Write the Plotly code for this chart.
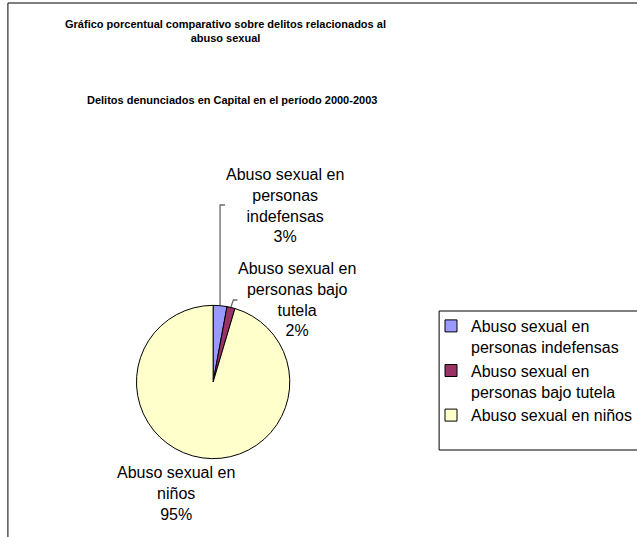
import math
import plotly.graph_objects as go

# ---------------- data ----------------
categories = [
    "Abuso sexual en personas indefensas",
    "Abuso sexual en personas bajo tutela",
    "Abuso sexual en niños",
]
legend_names = [
    "Abuso sexual en<br>personas indefensas",
    "Abuso sexual en<br>personas bajo tutela",
    "Abuso sexual en niños",
]
slice_label_lines = [
    ["Abuso sexual en", "personas", "indefensas"],
    ["Abuso sexual en", "personas bajo", "tutela"],
    ["Abuso sexual en", "niños"],
]
values = [2.9, 1.7, 95.4]
colors = ["#9999FF", "#993366", "#FFFFCC"]

title_text = "Gráfico porcentual comparativo sobre delitos relacionados al<br>abuso sexual"
subtitle_text = "Delitos denunciados en Capital en el período 2000-2003"

# ---------------- layout helpers ----------------
W, H = 637, 537


def px(x):
    return x / W


def py(y):
    return 1 - y / H


FONT = "Liberation Sans, Arial, sans-serif"

# pie geometry (pixels)
pie_left, pie_right, pie_top, pie_bottom = 138, 293, 305, 459
cx = (pie_left + pie_right) / 2
cy = (pie_top + pie_bottom) / 2
r = min(pie_right - pie_left, pie_bottom - pie_top) / 2

fig = go.Figure(
    go.Pie(
        labels=legend_names,
        values=values,
        sort=False,
        direction="clockwise",
        rotation=0,
        marker=dict(colors=colors, line=dict(color="#000000", width=1)),
        textinfo="none",
        hovertext=categories,
        hoverinfo="text+percent",
        domain=dict(x=[px(pie_left), px(pie_right)], y=[py(pie_bottom), py(pie_top)]),
    )
)

total = sum(values)
label_pos = [(288, 205), (300, 299.5), (178, 493)]
annotations = []
for lines, v, (lx, ly) in zip(slice_label_lines, values, label_pos):
    txt = "<br>".join(lines + [f"{round(100 * v / total)}%"])
    annotations.append(
        dict(
            text=txt, x=px(lx), y=py(ly), xref="paper", yref="paper",
            xanchor="center", yanchor="middle", showarrow=False, align="center",
            font=dict(family=FONT, size=16, color="#000000"),
        )
    )

annotations.append(
    dict(
        text="<b>" + subtitle_text + "</b>", x=px(235), y=py(100), xref="paper", yref="paper",
        xanchor="center", yanchor="middle", showarrow=False,
        font=dict(family=FONT, size=11, color="#000000"),
    )
)

# leader lines from slice mid-points
shapes = []
cum = 0
mids = []
for v in values:
    a = 2 * math.pi * (cum + v / 2) / total
    mids.append((cx + r * math.sin(a), cy - r * math.cos(a)))
    cum += v

lc = dict(color="#6a6a6a", width=1.3)
x0, y0 = mids[0]
shapes.append(dict(type="path", xref="paper", yref="paper",
                   path=f"M {px(x0)},{py(y0)} L {px(x0)},{py(205)} L {px(x0 + 5)},{py(205)}",
                   line=lc))
x1, y1 = mids[1]
shapes.append(dict(type="path", xref="paper", yref="paper",
                   path=f"M {px(x1)},{py(y1)} L {px(x1 + 2.5)},{py(300)} L {px(x1 + 6.5)},{py(300)}",
                   line=lc))

# chart area border (right/bottom lie outside the picture)
shapes.append(dict(type="rect", xref="paper", yref="paper",
                   x0=px(8), x1=px(660), y0=py(3), y1=py(560),
                   line=dict(color="#000000", width=1), fillcolor="rgba(0,0,0,0)"))
# legend box
shapes.append(dict(type="rect", xref="paper", yref="paper",
                   x0=px(444), x1=px(660), y0=py(311), y1=py(450),
                   line=dict(color="#000000", width=1), fillcolor="rgba(0,0,0,0)"))

fig.update_layout(
    width=W, height=H,
    margin=dict(l=0, r=0, t=0, b=0),
    paper_bgcolor="#FFFFFF", plot_bgcolor="#FFFFFF",
    font=dict(family=FONT, color="#000000"),
    title=dict(
        text="<b>" + title_text + "</b>", x=px(228), y=py(28),
        xanchor="center", yanchor="middle", xref="paper", yref="container",
        font=dict(family=FONT, size=11, color="#000000"),
        automargin=False,
    ),
    showlegend=True,
    legend=dict(
        x=px(436), y=py(309), xanchor="left", yanchor="top",
        font=dict(family=FONT, size=16, color="#000000"),
        bgcolor="rgba(0,0,0,0)", borderwidth=0, valign="top",
        traceorder="normal",
    ),
    annotations=annotations,
    shapes=shapes,
)

fig.write_html(
    "out.html",
    config={"displayModeBar": False},
    post_script="document.body.style.margin='0';document.body.style.padding='0';"
                "document.documentElement.style.overflow='hidden';document.body.style.overflow='hidden';",
)
